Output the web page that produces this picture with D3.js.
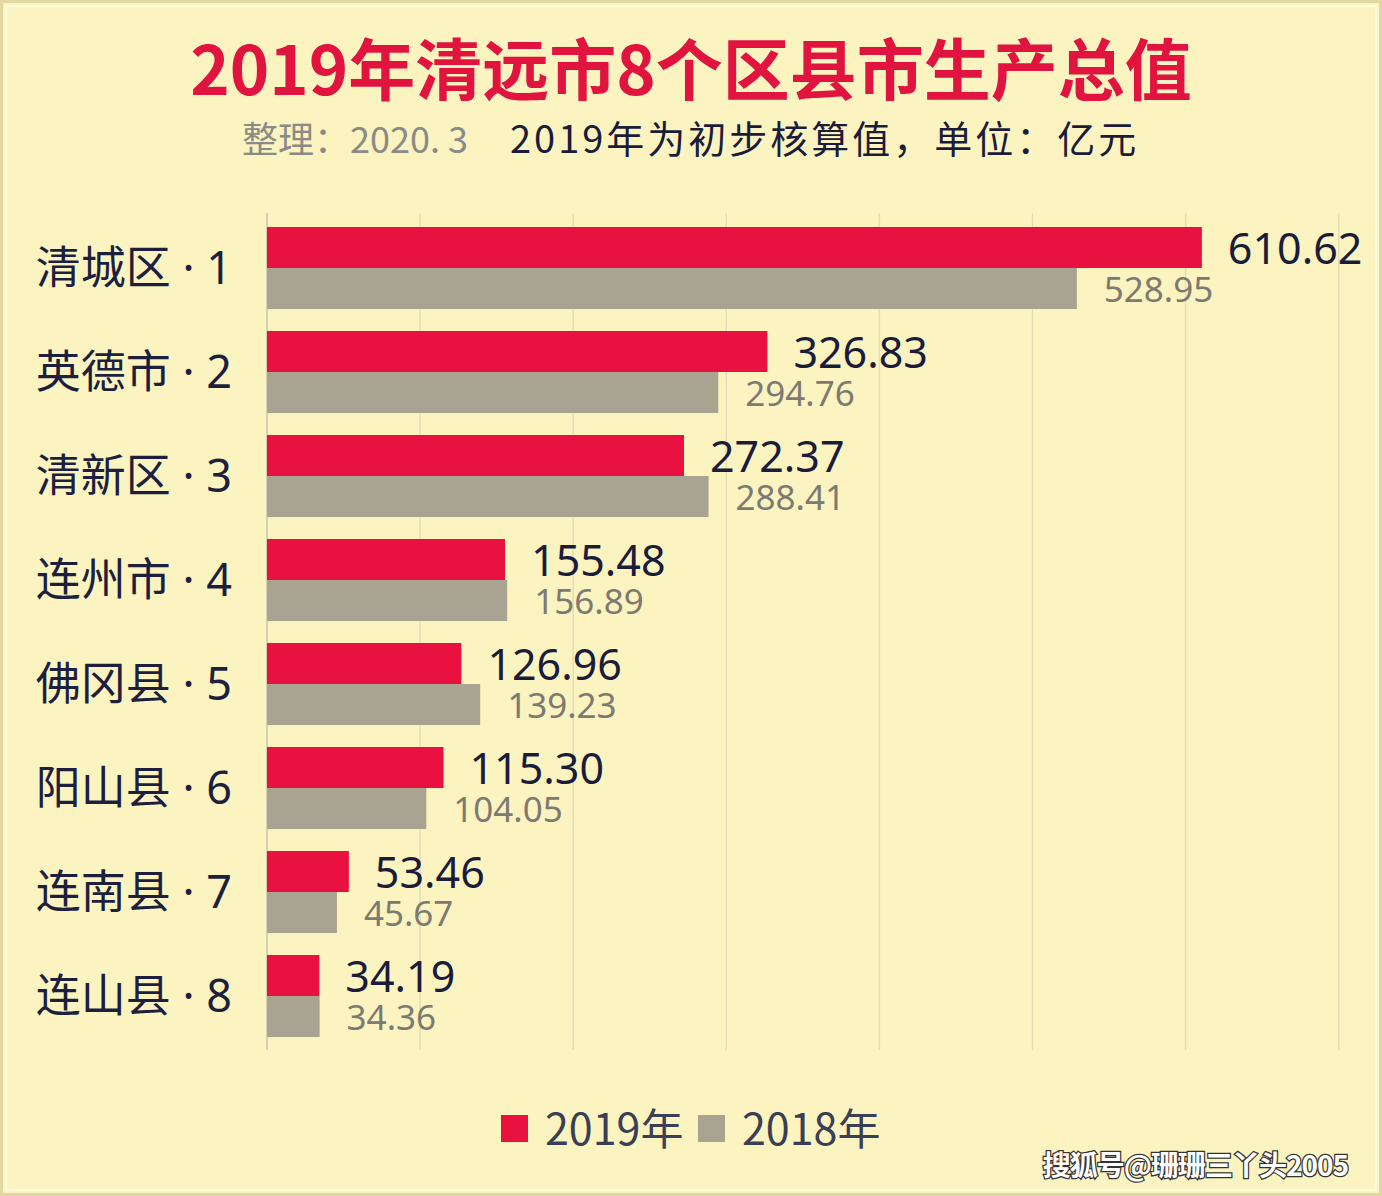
<!DOCTYPE html>
<html><head><meta charset="utf-8">
<script src="https://cdn.jsdelivr.net/npm/d3@7"></script>
<style>
html,body{margin:0;padding:0;background:#fcf4c0;}
svg{display:block;}
</style></head>
<body>
<svg id="c" width="1382" height="1196"></svg>
<script>
const categories = ["清城区 · 1","英德市 · 2","清新区 · 3","连州市 · 4","佛冈县 · 5","阳山县 · 6","连南县 · 7","连山县 · 8"];
const values2019 = [610.62,326.83,272.37,155.48,126.96,115.30,53.46,34.19];
const values2018 = [528.95,294.76,288.41,156.89,139.23,104.05,45.67,34.36];
const xTicks = [0,100,200,300,400,500,600,700];
const seriesNames = ["2019年","2018年"];

const W=1382,H=1196;
const svg=d3.select("#c");
const font="'Noto Sans CJK SC','Noto Sans',sans-serif";
const latinFirst="'Noto Sans','Noto Sans CJK SC',sans-serif";
const red="#e8113f", gray="#a9a391";

// background + frame
svg.append("rect").attr("x",0).attr("y",0).attr("width",W).attr("height",H).attr("fill","#fcf4c0");
svg.append("rect").attr("x",1.5).attr("y",1.5).attr("width",W-3).attr("height",H-3).attr("fill","none").attr("stroke","#e2d7a2").attr("stroke-width",3);
svg.append("rect").attr("x",6).attr("y",6).attr("width",W-12).attr("height",H-12).attr("fill","none").attr("stroke","#fffadc").attr("stroke-width",2);

const x=d3.scaleLinear().domain([0,700]).range([267,1338.7]);
const y=d3.scaleBand().domain(categories).range([216,1048]);

// grid
const grid=svg.append("g");
grid.selectAll("line").data(xTicks).join("line")
  .attr("x1",d=>x(d)).attr("x2",d=>x(d)).attr("y1",213).attr("y2",1050)
  .attr("stroke",d=>d===0?"#d6d0b2":"#e4ddb8").attr("stroke-width",d=>d===0?2:1.5);

const bh=41;
const g=svg.append("g");
g.selectAll(".r").data(categories).join("rect").attr("class","r")
  .attr("x",x(0)).attr("y",(d)=>y(d)+y.bandwidth()/2-bh)
  .attr("width",(d,i)=>x(values2019[i])-x(0)).attr("height",bh).attr("fill",red);
g.selectAll(".gr").data(categories).join("rect").attr("class","gr")
  .attr("x",x(0)).attr("y",(d)=>y(d)+y.bandwidth()/2)
  .attr("width",(d,i)=>x(values2018[i])-x(0)).attr("height",bh).attr("fill",gray);

// value labels
g.selectAll(".l1").data(categories).join("text").attr("class","l1")
  .attr("x",(d,i)=>x(values2019[i])+26).attr("y",d=>y(d)+y.bandwidth()/2-4)
  .attr("font-family",latinFirst).attr("font-size",43).attr("fill","#1a1c3a")
  .text((d,i)=>values2019[i].toFixed(2));
g.selectAll(".l2").data(categories).join("text").attr("class","l2")
  .attr("x",(d,i)=>x(values2018[i])+27).attr("y",d=>y(d)+y.bandwidth()/2+34)
  .attr("font-family",latinFirst).attr("font-size",35).attr("fill","#7c7a72")
  .text((d,i)=>values2018[i].toFixed(2));

// category labels
svg.append("g").selectAll("text").data(categories).join("text")
  .attr("x",232).attr("y",d=>y(d)+y.bandwidth()/2+16)
  .attr("text-anchor","end").attr("font-family",latinFirst).attr("font-size",45).attr("fill","#1c1f3d")
  .text(d=>d);

// title
svg.append("text").attr("x",691).attr("y",95).attr("text-anchor","middle")
  .attr("font-family",font).attr("font-weight","bold").attr("font-size",67).attr("fill","#e0143f")
  .text("2019年清远市8个区县市生产总值");
svg.append("text").attr("x",242).attr("y",153)
  .attr("font-family",font).attr("font-size",36).attr("fill","#8a8a86")
  .text("整理：2020. 3");
svg.append("text").attr("x",510).attr("y",153)
  .attr("font-family",font).attr("font-size",38).attr("letter-spacing",3).attr("fill","#1a1c3a")
  .text("2019年为初步核算值，单位：亿元");

// legend
const lg=svg.append("g");
const lx=[501,698];
lg.selectAll("rect").data(seriesNames).join("rect")
  .attr("x",(d,i)=>lx[i]).attr("y",1115).attr("width",27).attr("height",27)
  .attr("fill",(d,i)=>i===0?red:gray);
lg.selectAll("text").data(seriesNames).join("text")
  .attr("x",(d,i)=>lx[i]+44).attr("y",1145)
  .attr("font-family",font).attr("font-size",43).attr("fill","#3a3f55")
  .text(d=>d);

// watermark
svg.append("text").attr("x",1348).attr("y",1176).attr("text-anchor","end")
  .attr("font-family",font).attr("font-weight","bold").attr("font-size",28)
  .attr("fill","#ffffff").attr("stroke","#333333").attr("stroke-width",2.5).attr("paint-order","stroke")
  .attr("letter-spacing",-1)
  .text("搜狐号@珊珊三丫头2005");
</script>
</body></html>
